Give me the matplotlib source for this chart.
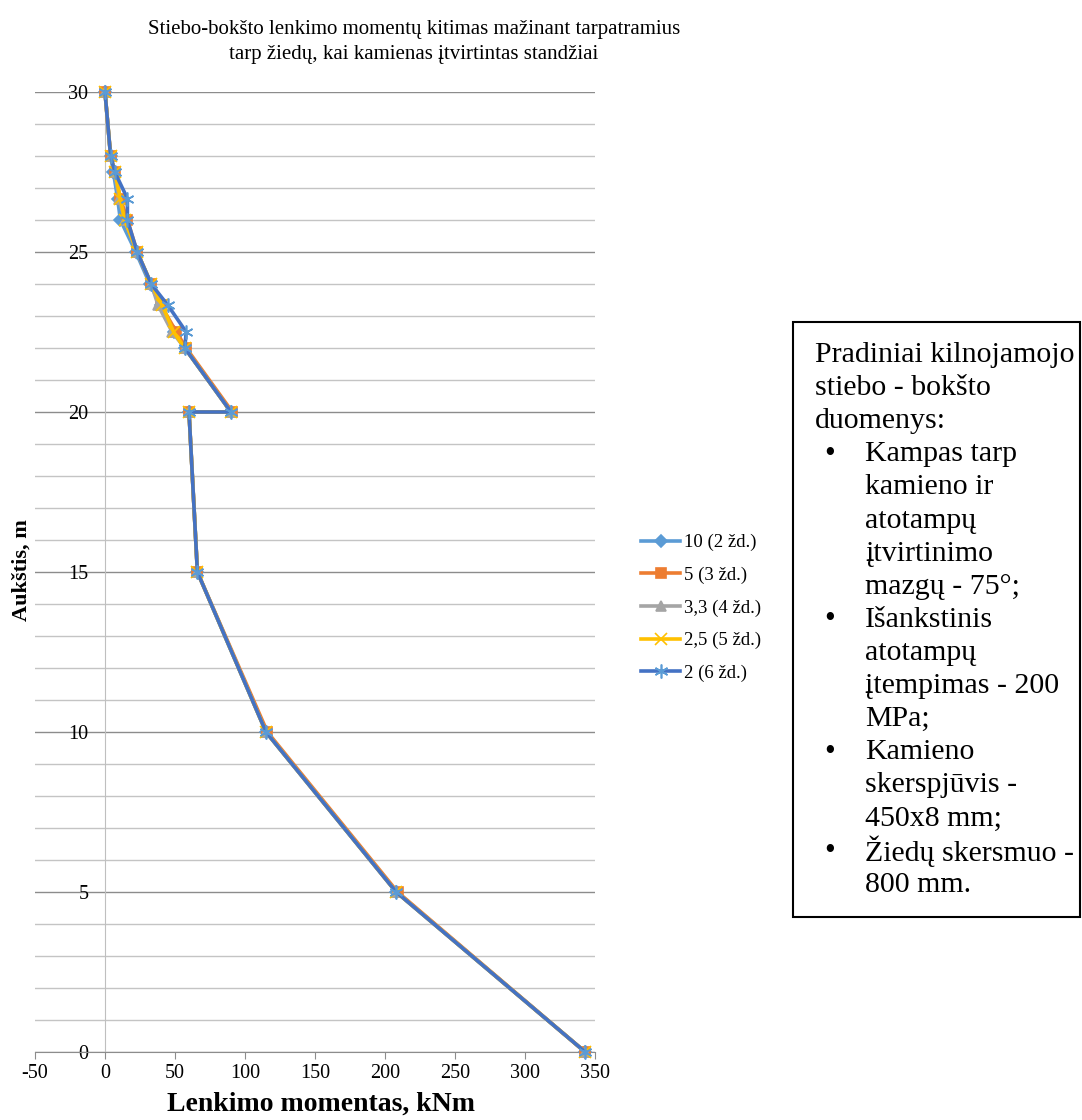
import matplotlib
matplotlib.use("Agg")
import matplotlib.pyplot as plt
from matplotlib.ticker import MultipleLocator
from matplotlib.patches import Rectangle

plt.rcParams["font.family"] = ["Liberation Serif", "DejaVu Serif"]
plt.rcParams["axes.unicode_minus"] = False

# data
heights = [30, 28, 27.5, 26.67, 26, 25, 24, 23.33, 22.5, 22, 20, 20, 15, 10, 5, 0]
m_10 = [0, 4, 6, 9, 11, 22, 32, 40, 49, 57, 90, 60, 66, 115, 208, 343]
m_5 = [0, 4, 7, 11, 16, 23, 33, 40, 51, 58, 91, 60, 66, 116, 209, 343]
m_33 = [0, 4, 7, 10, 14, 23, 33, 38, 48, 57, 90, 60, 66, 115, 208, 343]
m_25 = [0, 4, 7, 11, 14, 23, 33, 41, 49, 57, 90, 60, 66, 115, 208, 343]
m_2 = [0, 4, 7, 16, 16, 23, 33, 45, 58, 57, 90, 60, 66, 115, 208, 343]
labels = ["10 (2 žd.)", "5 (3 žd.)", "3,3 (4 žd.)", "2,5 (5 žd.)", "2 (6 žd.)"]

title = "Stiebo-bokšto lenkimo momentų kitimas mažinant tarpatramius\ntarp žiedų, kai kamienas įtvirtintas standžiai"
info_lines = [
    ("", "Pradiniai kilnojamojo"), ("", "stiebo - bokšto"), ("", "duomenys:"),
    ("•", "Kampas tarp"), ("", "kamieno ir"), ("", "atotampų"), ("", "įtvirtinimo"),
    ("", "mazgų - 75°;"),
    ("•", "Išankstinis"), ("", "atotampų"), ("", "įtempimas - 200"), ("", "MPa;"),
    ("•", "Kamieno"), ("", "skerspjūvis -"), ("", "450x8 mm;"),
    ("•", "Žiedų skersmuo -"), ("", "800 mm."),
]

W, H = 1082, 1120
fig = plt.figure(figsize=(W / 100, H / 100), dpi=100)
ax = fig.add_axes([35 / W, 1 - 1052 / H, 560 / W, 960 / H])

styles = [
    (m_10, "#5B9BD5", "D", 6, "#5B9BD5"),
    (m_5, "#ED7D31", "s", 7, "#ED7D31"),
    (m_33, "#A5A5A5", "^", 7, "#A5A5A5"),
    (m_25, "#FFC000", "x", 8, "#FFC000"),
    (m_2, "#4472C4", (6, 2, 0), 10, "#5B9BD5"),
]
for (vals, col, mk, ms, mcol), lab in zip(styles, labels):
    ax.plot(vals, heights, color=col, lw=2.6, marker=mk, ms=ms, mfc=mcol,
            mec=mcol, mew=1.2, label=lab, clip_on=False, zorder=3)

ax.set_xlim(-50, 350)
ax.set_ylim(0, 30)
ax.xaxis.set_major_locator(MultipleLocator(50))
ax.yaxis.set_major_locator(MultipleLocator(5))
ax.yaxis.set_minor_locator(MultipleLocator(1))
ax.grid(axis="y", which="major", color="#8C8C8C", lw=1)
ax.grid(axis="y", which="minor", color="#C4C4C4", lw=1)
ax.set_axisbelow(True)
for s in ["top", "right"]:
    ax.spines[s].set_visible(False)
ax.spines["left"].set_position(("data", 0))
ax.spines["left"].set_color("#BFBFBF")
ax.spines["bottom"].set_color("#8C8C8C")
ax.tick_params(axis="x", direction="out", length=5, color="#8C8C8C", labelsize=14.5, pad=4)
ax.tick_params(axis="y", which="both", length=0, labelsize=14.5, pad=12)
fig.text(321 / W, 1 - 1104 / H, "Lenkimo momentas, kNm", fontsize=20,
         fontweight="bold", ha="center", va="center")
fig.text(22 / W, 1 - 570 / H, "Aukštis, m", rotation=90, fontsize=16,
         fontweight="bold", ha="center", va="center")

fig.text(414 / W, 1 - 42 / H, title, fontsize=15, ha="center", va="center",
         linespacing=1.45)

ax.legend(loc="center left", bbox_to_anchor=(624 / W, 1 - 608 / H),
          bbox_transform=fig.transFigure, frameon=False, fontsize=13.5,
          handlelength=2.1, labelspacing=0.82, handletextpad=0.2)

fig.patches.append(Rectangle((793 / W, 1 - 917 / H), 287 / W, 595 / H,
                             transform=fig.transFigure, fill=False, ec="black", lw=1.5))
for i, (bullet, txt) in enumerate(info_lines):
    y = 1 - (355 + i * 33.1) / H
    if bullet:
        fig.text(830 / W, y, bullet, fontsize=22, ha="center", va="center")
    x = 815 if i < 3 else 865
    fig.text(x / W, y, txt, fontsize=21.5, ha="left", va="center")

fig.savefig("out.png", dpi=100, facecolor="white")
